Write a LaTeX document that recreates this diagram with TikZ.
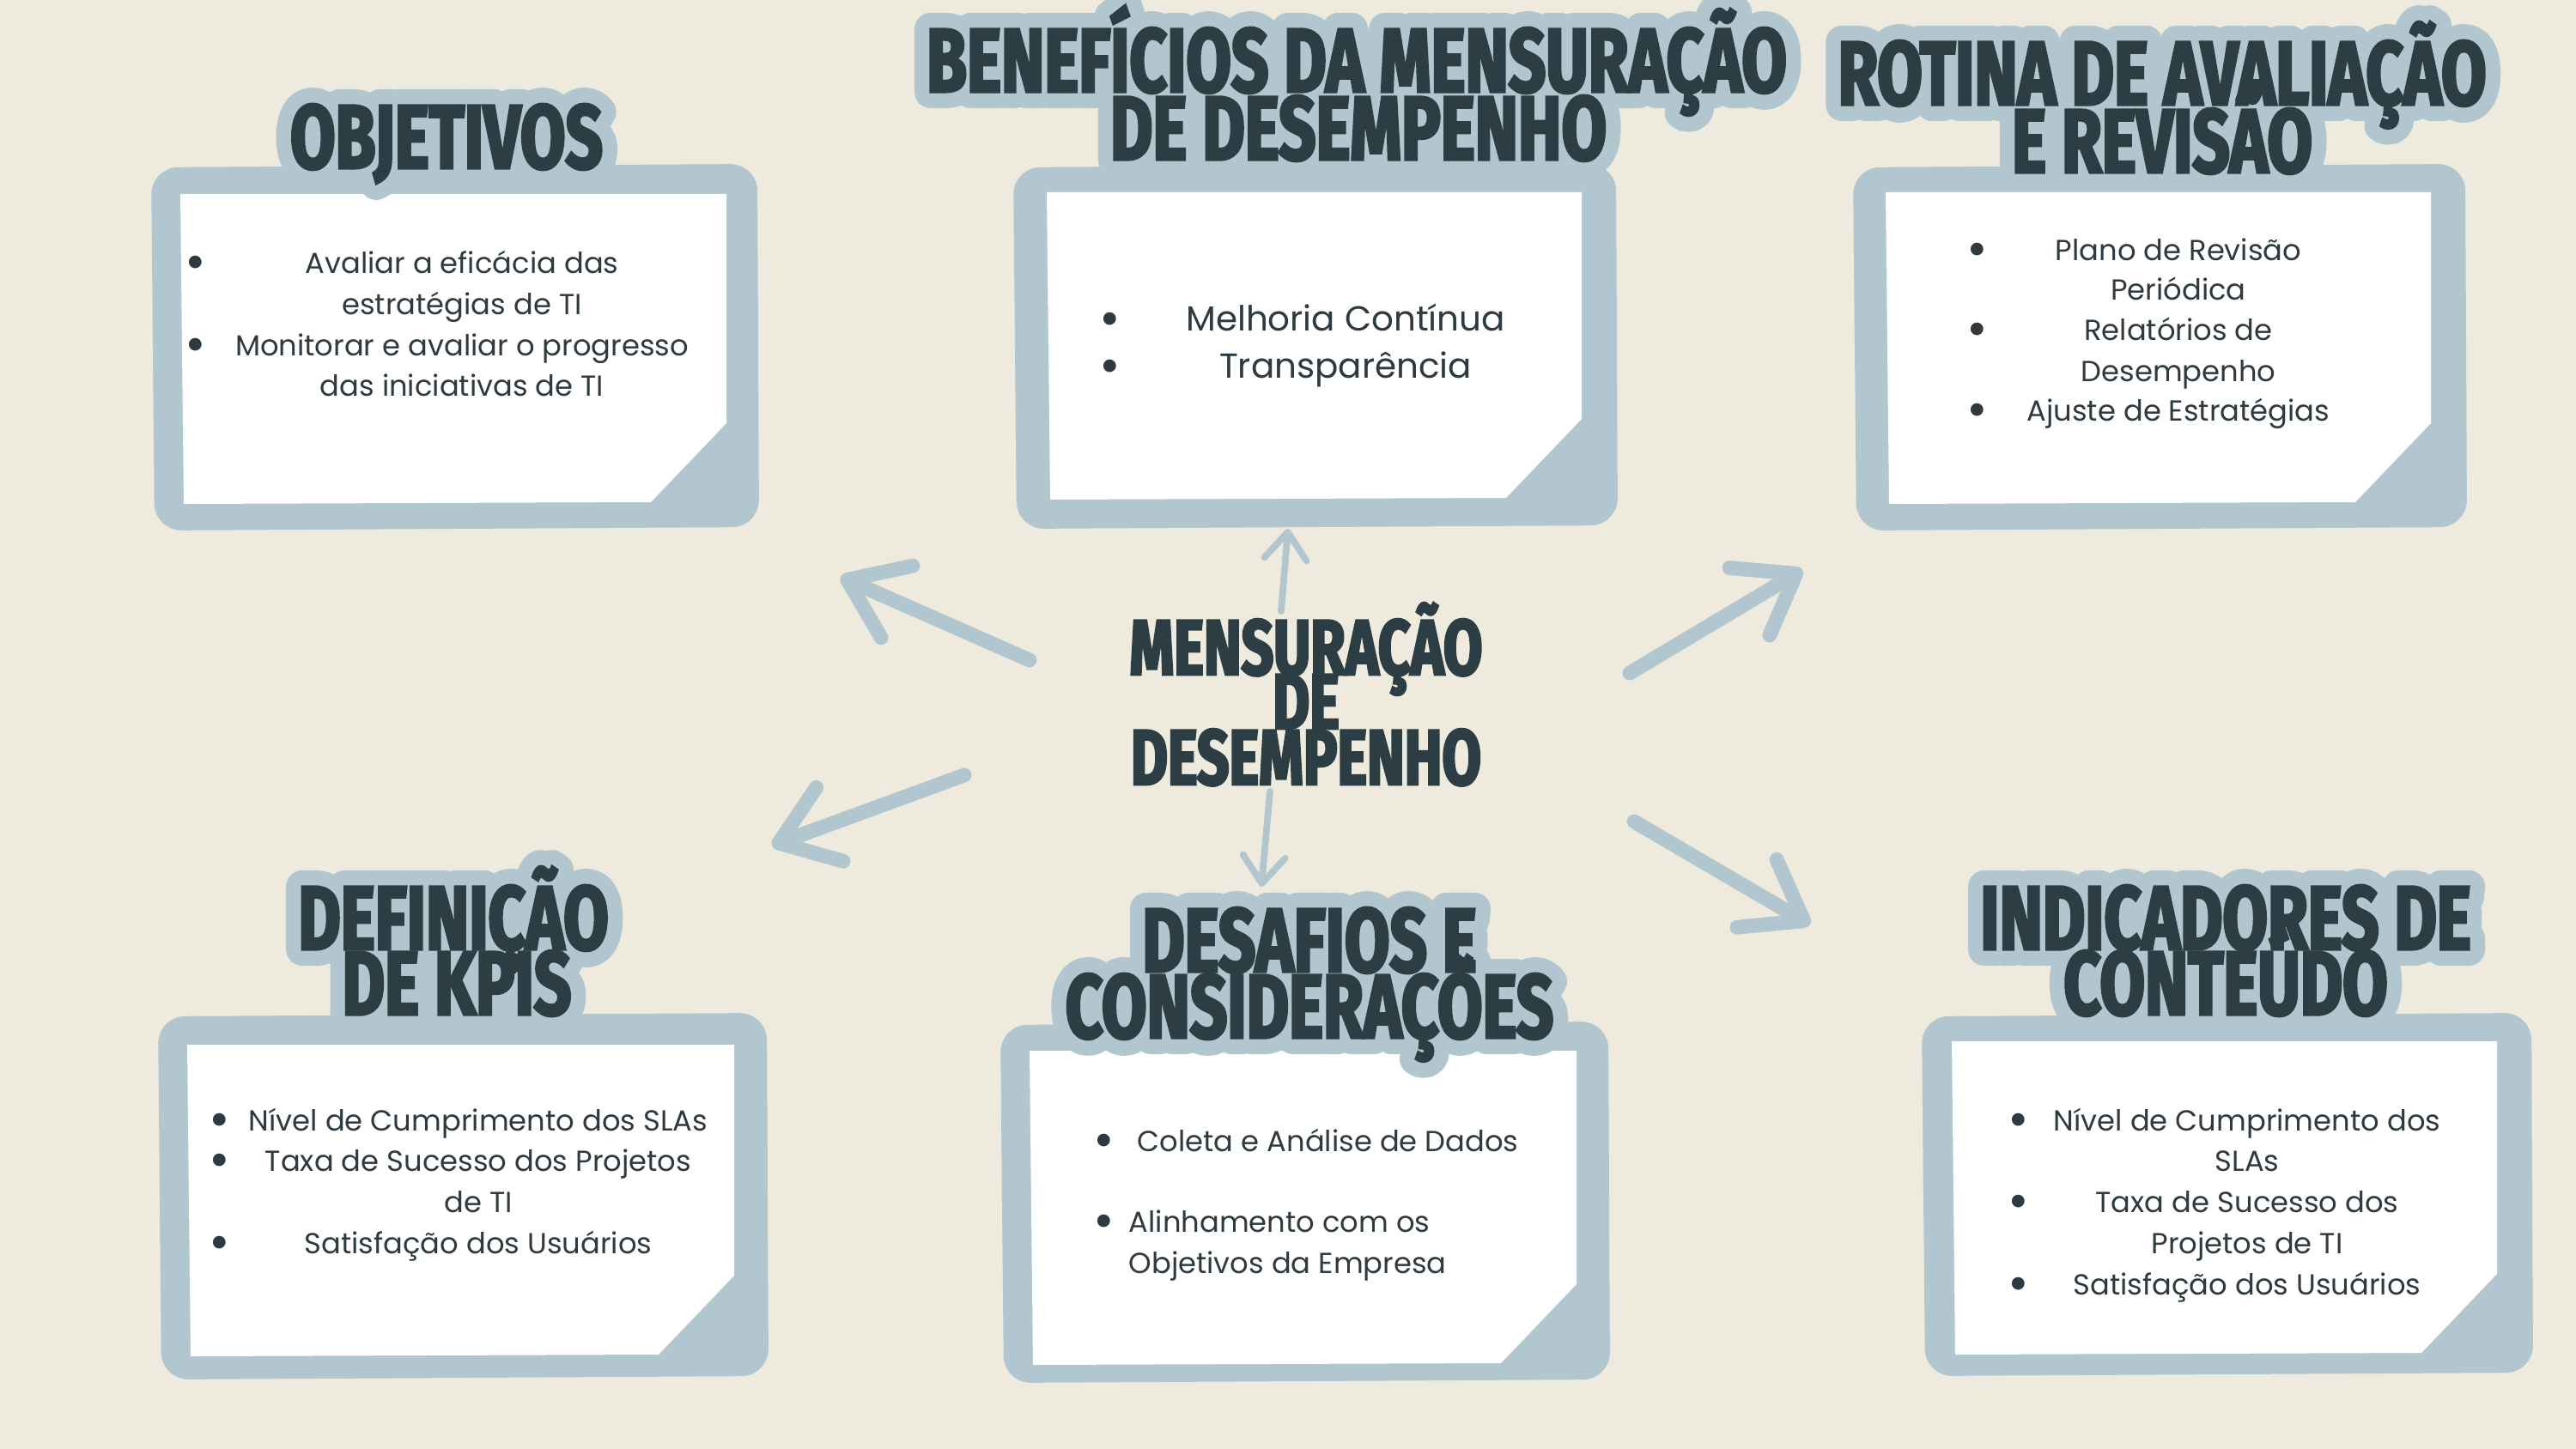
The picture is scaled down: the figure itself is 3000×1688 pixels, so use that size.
\documentclass[tikz,border=0pt]{standalone}
\usepackage{fontspec}
\setmainfont{Poppins}
\newfontfamily\ttlfont{Fira Sans}[FakeStretch=0.72, BoldFeatures={FakeBold=3}]
\newfontfamily\halofont{Fira Sans}[FakeStretch=0.72, BoldFeatures={FakeBold=36}]
\usetikzlibrary{arrows.meta,calc}
\pgfdeclarelayer{back}
\pgfdeclarelayer{halolayer}
\pgfsetlayers{back,halolayer,main}
\definecolor{bg}{RGB}{238,234,221}
\definecolor{frame}{RGB}{177,198,206}
\definecolor{ink}{RGB}{44,61,68}
\definecolor{bodyink}{RGB}{46,58,64}
\tikzset{
 ttl/.style={font=\ttlfont\bfseries\fontsize{30}{30}\selectfont, text=ink, inner sep=0pt, anchor=base, text height=20.7pt, text depth=0pt},
 halottl/.style={ttl, font=\halofont\bfseries\fontsize{30}{30}\selectfont, text=frame},
 ctr/.style={ttl, font=\ttlfont\bfseries\fontsize{26}{26}\selectfont, text height=17.9pt},
 body/.style={font=\fontsize{9.6}{12}\selectfont, text=bodyink, inner sep=0pt, anchor=base},
 bigbody/.style={body, font=\fontsize{11.5}{14}\selectfont},
 lbody/.style={body, anchor=base west},
 bul/.style={body, font=\fontsize{17}{17}\selectfont},
 thickarrow/.style={draw=frame, line width=4.8pt, line cap=round, -{Straight Barb[length=18pt,width=26pt,round]}},
 thinarrow/.style={draw=frame, line width=2.2pt, line cap=round, -{Straight Barb[length=9pt,width=14pt,round]}},
}
\newcommand\halotext[2]{%
 \begin{pgfonlayer}{halolayer}
 \node[halottl] (h#1) at (#1.base) {\special{pdf:literal direct 1 j 1 J}#2};
 \end{pgfonlayer}}
\newcommand\notebox[8]{%
 \begin{pgfonlayer}{back}
 \fill[frame, rounded corners=9pt] (#1,#2+4) -- (#3-2,#2) -- (#3,#4-4) -- (#1+4,#4) -- cycle;
 \fill[white] (#5,#6) -- (#7,#6) -- (#7,#8-92) -- (#7-88,#8) -- (#5+4,#8+2) -- cycle;
 \end{pgfonlayer}}
\begin{document}
\begin{tikzpicture}[x=0.01cm,y=-0.01cm]
\begin{pgfonlayer}{back}
\fill[bg] (0,0) rectangle (3000,1688);
\end{pgfonlayer}
\useasboundingbox (0,0) rectangle (3000,1688);

% boxes
\notebox{176}{191}{884}{618}{210}{226}{846}{585}
\notebox{1180}{191}{1884}{616}{1219}{224}{1842}{580}
\notebox{2158}{191}{2873}{618}{2196}{224}{2831}{585}
\notebox{184}{1180}{895}{1607}{218}{1217}{855}{1578}
\notebox{1165}{1190}{1875}{1611}{1199}{1224}{1836}{1588}
\notebox{2238}{1180}{2950}{1603}{2273}{1213}{2908}{1576}

% titles
\node[ttl] (t1) at (520,196) {OBJETIVOS};
\node[ttl] (t2a) at (1580,107) {BENEFÍCIOS DA MENSURAÇÃO};
\node[ttl] (t2b) at (1582,186) {DE DESEMPENHO};
\node[ttl] (t3a) at (2518,122) {ROTINA DE AVALIAÇÃO};
\node[ttl] (t3b) at (2518,201) {E REVISÃO};
\node[ttl] (t4a) at (528,1106) {DEFINIÇÃO};
\node[ttl] (t4b) at (532,1182) {DE KPIS};
\node[ttl] (t5a) at (1525,1132) {DESAFIOS E};
\node[ttl] (t5b) at (1525,1209) {CONSIDERAÇÕES};
\node[ttl] (t6a) at (2592,1106) {INDICADORES DE};
\node[ttl] (t6b) at (2592,1182) {CONTEÚDO};
\halotext{t1}{OBJETIVOS}
\halotext{t2a}{BENEFÍCIOS DA MENSURAÇÃO}
\halotext{t2b}{DE DESEMPENHO}
\halotext{t3a}{ROTINA DE AVALIAÇÃO}
\halotext{t3b}{E REVISÃO}
\halotext{t4a}{DEFINIÇÃO}
\halotext{t4b}{DE KPIS}
\halotext{t5a}{DESAFIOS E}
\halotext{t5b}{CONSIDERAÇÕES}
\halotext{t6a}{INDICADORES DE}
\halotext{t6b}{CONTEÚDO}

% center
\node[ctr] (c1) at (1521,786) {MENSURAÇÃO};
\node[ctr] (c2) at (1521,849) {DE};
\node[ctr] (c3) at (1521,914) {DESEMPENHO};

% box 1
\node[body] (b1a) at (538,318) {Avaliar a eficácia das};
\node[body] (b1b) at (538,366) {estratégias de TI};
\node[body] (b1c) at (538,414) {Monitorar e avaliar o progresso};
\node[body] (b1d) at (538,461) {das iniciativas de TI};
\node[bul] (b1p) at (228,325) {•};
\node[bul] (b1q) at (228,421) {•};

% box 2
\node[bigbody] (b2a) at (1567,385) {Melhoria Contínua};
\node[bigbody] (b2b) at (1567,440) {Transparência};
\node[bul] (b2p) at (1293,391) {•};
\node[bul] (b2q) at (1293,446) {•};

% box 3
\node[body] (b3a) at (2537,303) {Plano de Revisão};
\node[body] (b3b) at (2537,349) {Periódica};
\node[body] (b3c) at (2537,396) {Relatórios de};
\node[body] (b3d) at (2537,444) {Desempenho};
\node[body] (b3e) at (2537,490) {Ajuste de Estratégias};
\node[bul] (b3p) at (2303,310) {•};
\node[bul] (b3q) at (2303,403) {•};
\node[bul] (b3r) at (2303,497) {•};

% box 4
\node[body] (b4a) at (557,1317) {Nível de Cumprimento dos SLAs};
\node[body] (b4b) at (557,1364) {Taxa de Sucesso dos Projetos};
\node[body] (b4c) at (557,1412) {de TI};
\node[body] (b4d) at (557,1460) {Satisfação dos Usuários};
\node[bul] (b4p) at (256,1324) {•};
\node[bul] (b4q) at (256,1371) {•};
\node[bul] (b4r) at (256,1467) {•};

% box 5
\node[lbody] (b5a) at (1324,1341) {Coleta e Análise de Dados};
\node[lbody] (b5b) at (1314,1435) {Alinhamento com os};
\node[lbody] (b5c) at (1314,1483) {Objetivos da Empresa};
\node[bul] (b5p) at (1286,1348) {•};
\node[bul] (b5q) at (1286,1442) {•};

% box 6
\node[body] (b6a) at (2617,1317) {Nível de Cumprimento dos};
\node[body] (b6b) at (2617,1364) {SLAs};
\node[body] (b6c) at (2617,1412) {Taxa de Sucesso dos};
\node[body] (b6d) at (2617,1460) {Projetos de TI};
\node[body] (b6e) at (2617,1508) {Satisfação dos Usuários};
\node[bul] (b6p) at (2351,1324) {•};
\node[bul] (b6q) at (2351,1419) {•};
\node[bul] (b6r) at (2351,1515) {•};

% arrows
\coordinate (upA) at (1492,712);  \coordinate (upB) at (1500,616);
\coordinate (dnA) at (1479,922);  \coordinate (dnB) at (1469,1033);
\coordinate (ulA) at (1199,769);  \coordinate (ulB) at (979,672);
\coordinate (urA) at (1898,784);  \coordinate (urB) at (2099,664);
\coordinate (llA) at (1123,903);  \coordinate (llB) at (899,985);
\coordinate (lrA) at (1903,957);  \coordinate (lrB) at (2108,1077);
\draw[thinarrow] (upA) -- (upB);
\draw[thinarrow] (dnA) -- (dnB);
\draw[thickarrow] (ulA) -- (ulB);
\draw[thickarrow] (urA) -- (urB);
\draw[thickarrow] (llA) -- (llB);
\draw[thickarrow] (lrA) -- (lrB);
\end{tikzpicture}
\end{document}
